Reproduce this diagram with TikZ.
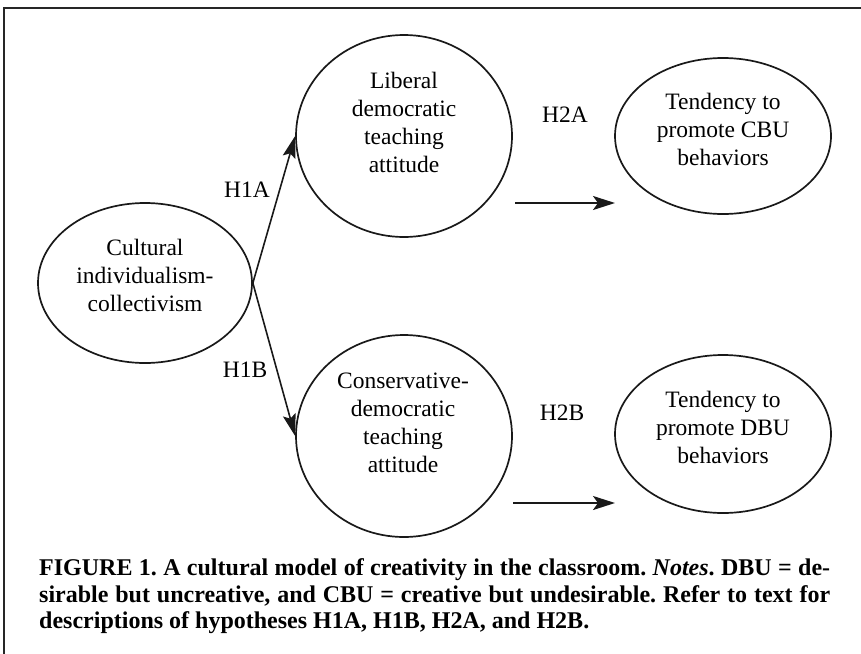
\documentclass[tikz,border=0pt]{standalone}
\usepackage{fontspec}
\setmainfont{Liberation Serif}
\usetikzlibrary{arrows.meta,shapes.geometric}
\frenchspacing
\newcommand{\mlines}[1]{\vtop{\baselineskip=28pt\halign{\hfil##\hfil\cr #1\crcr}}}
\tikzset{
  ell/.style={draw=black!90, line width=1.7pt, ellipse, inner sep=0pt},
  txt/.style={anchor=base, inner sep=0pt, font=\fontsize{23.5}{28}\selectfont},
  lbl/.style={anchor=base, inner sep=0pt, font=\fontsize{23.5}{28}\selectfont},
  arr/.style={line width=1.6pt, draw=black!90, -{Stealth[length=22pt,width=13pt,inset=4pt]}},
  harr/.style={line width=2pt, draw=black!90, -{Stealth[length=22pt,width=14pt,inset=5pt]}},
  captxt/.style={anchor=base west, inner sep=0pt, font=\fontsize{24}{27}\selectfont\bfseries},
}
\begin{document}
\begin{tikzpicture}[x=1pt,y=-1pt]
\useasboundingbox (0,0) rectangle (861,653);
% frame
\draw[line width=2pt, black!85] (4,660) -- (4,8) -- (870,8);
% ellipses
\node[ell, minimum width=214pt, minimum height=160pt] (cult) at (145,283) {};
\node[ell, minimum width=216pt, minimum height=202pt] (lib) at (404,136) {};
\node[ell, minimum width=216pt, minimum height=156pt] (cbu) at (723,136) {};
\node[ell, minimum width=216pt, minimum height=202pt] (cons) at (404,436) {};
\node[ell, minimum width=216pt, minimum height=158pt] (dbu) at (723,434) {};
% texts
\node[txt] (culttxt) at (145,255) {\mlines{Cultural\cr individualism-\cr collectivism}};
\node[txt] (libtxt) at (404,88) {\mlines{Liberal\cr democratic\cr teaching\cr attitude}};
\node[txt] (cbutxt) at (723,109) {\mlines{Tendency to\cr promote CBU\cr behaviors}};
\node[txt] (constxt) at (403,388) {\mlines{Conservative-\cr democratic\cr teaching\cr attitude}};
\node[txt] (dbutxt) at (723,407) {\mlines{Tendency to\cr promote DBU\cr behaviors}};
% labels
\node[lbl] (h1a) at (247,197) {H1A};
\node[lbl] (h1b) at (245,377) {H1B};
\node[lbl] (h2a) at (565,122) {H2A};
\node[lbl] (h2b) at (562,420) {H2B};
% arrows
\draw[arr] (cult.east) -- (lib.west);
\draw[arr] (cult.east) -- (cons.west);
\coordinate (a2s) at (515,203);
\coordinate (a2e) at (615,203);
\coordinate (b2s) at (513,503);
\coordinate (b2e) at (615,503);
\draw[harr] (a2s) -- (a2e);
\draw[harr] (b2s) -- (b2e);
% caption
\node[captxt] (cap1) at (39,575) {\makebox[791pt][s]{FIGURE 1. A cultural model of creativity in the classroom. \textit{Notes}. DBU = de-}};
\node[captxt] (cap2) at (39,602) {\makebox[791pt][s]{sirable but uncreative, and CBU = creative but undesirable. Refer to text for}};
\node[captxt] (cap3) at (39,628) {descriptions of hypotheses H1A, H1B, H2A, and H2B.};
\end{tikzpicture}
\end{document}
